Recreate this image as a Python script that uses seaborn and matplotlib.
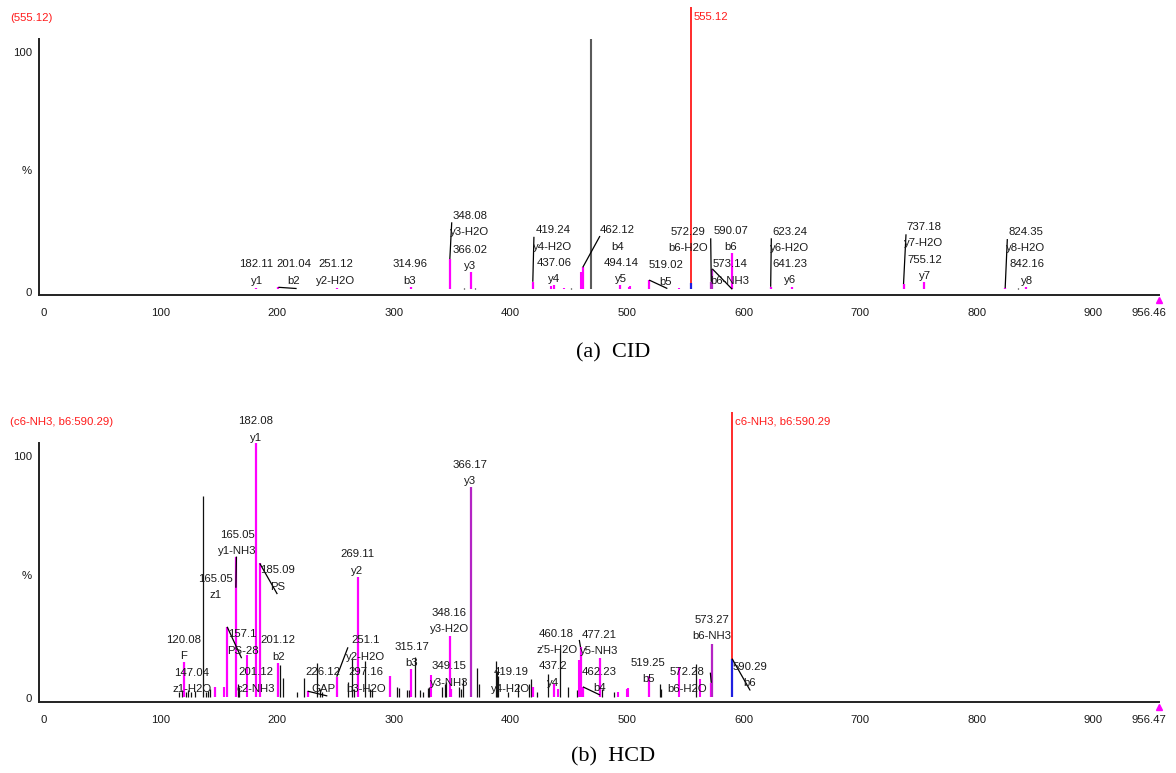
import matplotlib
matplotlib.use("Agg")
import matplotlib.pyplot as plt
import matplotlib.transforms as mtransforms
import seaborn as sns

sns.set_theme(style="white")
plt.rcParams["font.family"] = ["Liberation Sans", "DejaVu Sans"]

# ------------------------------------------------------------------
# (a) CID spectrum
# ------------------------------------------------------------------
cid_ann_mz = [182.11, 201.04, 251.12, 314.96, 348.08, 366.02, 419.24, 437.06,
              462.12, 494.14, 519.02, 572.29, 573.14, 590.07, 623.24, 641.23,
              737.18, 755.12, 824.35, 842.16]
cid_ann_ion = ["y1", "b2", "y2-H2O", "b3", "y3-H2O", "y3", "y4-H2O", "y4",
               "b4", "y5", "b5", "b6-H2O", "b6-NH3", "b6", "y6-H2O", "y6",
               "y7-H2O", "y7", "y8-H2O", "y8"]
cid_ann_int = [0.7, 0.8, 0.7, 0.8, 12.1, 7.0, 3.0, 1.7,
               8.8, 1.7, 3.7, 3.0, 8.2, 14.4, 1.0, 1.0,
               2.1, 3.0, 0.5, 1.0]

cid_match_mz = [434.5, 446.4, 460.3, 501.7, 503.0, 544.9]
cid_match_int = [1.3, 0.7, 7.0, 1.0, 1.5, 0.7]
cid_noise_mz = [360.5, 369.6, 452.0, 468.8, 835.6]
cid_noise_int = [0.6, 0.6, 0.6, 100.0, 0.5]

cid_prec_mz = 555.12
cid_prec_int = 2.4
cid_prec_text = "555.12"
cid_max_mz = 956.46

# ------------------------------------------------------------------
# (b) HCD spectrum
# ------------------------------------------------------------------
hcd_ann_mz = [120.08, 147.04, 157.10, 165.05, 165.05, 182.08, 185.09, 201.12,
              201.12, 226.12, 251.10, 269.11, 297.16, 315.17, 348.16, 349.15,
              366.17, 419.19, 437.20, 460.18, 462.23, 477.21, 519.25, 572.28,
              573.27]
hcd_ann_ion = ["F", "z1-H2O", "PS-28", "y1-NH3", "z1", "y1", "PS", "b2",
               "c2-NH3", "GAP", "y2-H2O", "y2", "b3-H2O", "b3", "y3-H2O",
               "y3-NH3", "y3", "y4-H2O", "y4", "z'5-H2O", "b4", "y5-NH3", "b5",
               "b6-H2O", "b6-NH3"]
hcd_ann_int = [13.8, 3.9, 27.6, 55.3, 55.3, 100.0, 52.6, 13.2,
               13.2, 2.2, 7.9, 47.1, 8.0, 10.8, 24.0, 3.0,
               82.6, 4.0, 5.0, 19.5, 3.9, 15.4, 8.2, 5.5,
               21.0]

hcd_match_mz = [154.6, 173.8, 331.6, 441.0, 459.1, 492.0, 500.0, 501.2, 544.9, 562.6]
hcd_match_int = [4.0, 16.5, 8.6, 3.0, 14.6, 2.0, 3.0, 3.5, 11.8, 6.9]
hcd_noise_mz = [115.8, 118.1, 121.8, 123.8, 125.8, 129.5, 136.1, 138.9, 140.9,
                142.4, 166.4, 167.5, 202.2, 205.3, 216.7, 223.2, 233.9, 236.5,
                238.8, 261.0, 263.9, 266.0, 275.3, 279.7, 281.6, 302.4, 304.4,
                311.0, 313.0, 318.6, 322.5, 325.0, 329.5, 330.6, 341.6, 343.8,
                345.1, 356.0, 357.3, 359.0, 371.6, 373.3, 387.3, 388.3, 389.3,
                398.0, 406.6, 416.0, 417.7, 423.0, 432.5, 442.5, 449.5, 457.3,
                478.5, 489.3, 528.0, 529.0, 559.5]
hcd_noise_int = [2.0, 2.6, 2.0, 2.6, 2.0, 2.4, 79.3, 2.0, 2.4,
                 3.0, 5.0, 4.0, 12.5, 7.3, 2.0, 7.3, 13.2, 3.0,
                 2.0, 6.0, 15.0, 3.0, 14.0, 3.0, 3.0, 4.0, 3.5,
                 2.5, 2.5, 15.8, 2.5, 2.0, 3.5, 4.0, 4.0, 5.0,
                 6.0, 4.0, 3.0, 7.0, 11.3, 5.0, 14.0, 10.0, 8.0,
                 2.0, 5.0, 5.0, 7.0, 2.0, 9.0, 18.4, 4.0, 2.5,
                 3.0, 2.0, 5.0, 3.0, 12.9]

hcd_prec_mz = 590.29
hcd_prec_int = 14.9
hcd_prec_ion = "b6"
hcd_prec_text = "c6-NH3, b6:590.29"
hcd_max_mz = 956.47

# ------------------------------------------------------------------
# label placement (centre x, ion-line y) and leader end points
# ------------------------------------------------------------------
cid_lab_pos = [(182.4, 3.4), (214.4, 3.4), (250.4, 3.4), (313.9, 3.4),
               (365.4, 22.8), (365.4, 9.3), (436.3, 17.0), (437.4, 4.0),
               (491.7, 17.0), (494.9, 4.0), (533.2, 3.0), (552.6, 16.4),
               (588.3, 3.4), (589.2, 16.8), (639.8, 16.4), (639.8, 3.7),
               (754.7, 18.4), (755.6, 5.3), (841.9, 16.4), (842.8, 3.4)]
cid_leader = [None, (216.7, 0.3), None, None,
              (349.7, 26.8), None, (420.2, 21.0), None,
              (476.8, 21.3), None, (534.6, 0.3), (571.8, 20.4),
              (590.3, 0.0), None, (623.8, 20.4), None,
              (739.3, 22.0), None, (826.2, 20.1), None]
cid_dark = {572.29, 573.14}

hcd_lab_pos = [(120.1, 16.1), (126.6, 3.0), (170.4, 18.2), (165.8, 57.5),
               (147.5, 40.1), (181.8, 102.2), (200.1, 43.4), (201.0, 15.8),
               (181.8, 3.2), (239.6, 3.2), (276.2, 15.8), (268.7, 49.7),
               (276.2, 3.2), (315.6, 13.2), (347.6, 26.6), (347.6, 5.5),
               (365.4, 85.1), (400.3, 3.2), (436.8, 5.5), (439.7, 18.4),
               (476.3, 3.3), (476.3, 18.0), (518.3, 6.9), (551.7, 3.2),
               (572.6, 24.0)]
hcd_leader = [None, None, (169.5, 15.2), None,
              (164.6, 43.0), None, (200.1, 40.5), None,
              None, (243.0, 0.3), (260.7, 19.5), None,
              None, None, None, None,
              None, None, None, (459.1, 22.4),
              (476.8, 0.7), None, None, (571.5, 9.5),
              None]
hcd_dark = {366.17, 573.27}
hcd_prec_lab = (605.5, 5.3)
hcd_prec_leader = (605.5, 2.6)

MAGENTA = "#ff00ff"
PURPLE = "#b424c4"
TXT = "#1a1a1a"
FS = 8.2
LINE_PITCH = 16.3  # pixels between the m/z line and the ion line


def fmt(v):
    return ("%.2f" % v).rstrip("0").rstrip(".")


def draw_panel(ax, ann_mz, ann_ion, ann_int, lab_pos, leaders, dark,
               match_mz, match_int, noise_mz, noise_int,
               prec_mz, prec_int, prec_text, max_mz, ylim, red_top,
               ylab_pos, fig):
    ax.set_xlim(-4, 962)
    ax.set_ylim(*ylim)

    # unmatched peaks (the base peak is drawn in grey)
    for m, v in zip(noise_mz, noise_int):
        is_base = v >= 99
        ax.vlines(m, 0, v, color="#5a5a5a" if is_base else "#111111",
                  lw=1.5 if is_base else 0.9)
    # matched but unlabelled peaks
    ax.vlines(match_mz, 0, match_int, color=MAGENTA, lw=1.5)
    # labelled peaks (unique positions)
    seen = set()
    for m, v in zip(ann_mz, ann_int):
        if m in seen:
            continue
        seen.add(m)
        ax.vlines(m, 0, v, color=PURPLE if m in dark else MAGENTA, lw=1.6)

    # precursor marker
    ax.vlines(prec_mz, prec_int, red_top, color="#ff1a1a", lw=1.3)
    ax.vlines(prec_mz, 0, prec_int, color="#1f1fe0", lw=1.6)
    ax.text(prec_mz + 2.0, red_top - 4.0, prec_text, color="#ff1a1a",
            fontsize=FS, ha="left", va="center")

    up = mtransforms.offset_copy(ax.transData, fig=fig, x=0, y=LINE_PITCH,
                                 units="dots")
    for m, ion, v, (lx, ly), ld in zip(ann_mz, ann_ion, ann_int, lab_pos, leaders):
        if ld is not None:
            ax.plot([m, ld[0]], [v, ld[1]], color="#000000", lw=0.9,
                    solid_capstyle="butt")
        ax.text(lx, ly, ion, fontsize=FS, ha="center", va="center", color=TXT)
        ax.text(lx, ly, fmt(m), fontsize=FS, ha="center", va="center",
                color=TXT, transform=up)

    # axes styling
    for s in ("top", "right"):
        ax.spines[s].set_visible(False)
    for s in ("left", "bottom"):
        ax.spines[s].set_color("#222222")
        ax.spines[s].set_linewidth(1.4)
    ax.spines["left"].set_bounds(ylim[0], 100)
    ax.spines["bottom"].set_bounds(-4, max_mz)

    xt = [0, 100, 200, 300, 400, 500, 600, 700, 800, 900, max_mz]
    ax.set_xticks(xt)
    ax.set_xticklabels([str(t) for t in xt[:-1]] + [fmt(max_mz)])
    ax.tick_params(axis="x", direction="in", length=4, width=1.0,
                   color="#222222", labelsize=FS, pad=9.5, labelcolor=TXT)
    last = ax.get_xticklabels()[-1]
    last.set_transform(last.get_transform() +
                       mtransforms.ScaledTranslation(-10 / 100, 0, fig.dpi_scale_trans))

    ax.set_yticks([0, 50, 100])
    ax.set_yticklabels([])
    ax.tick_params(axis="y", which="major", direction="in", length=3,
                   width=1.0, color="#222222")
    ax.set_yticks(ylab_pos, minor=True)
    ax.set_yticklabels(["0", "%", "100"], minor=True)
    ax.tick_params(axis="y", which="minor", length=0, labelsize=FS, pad=5.3,
                   labelcolor=TXT)
    ax.grid(False)

    # precursor m/z marker under the axis end
    ax.plot([max_mz], [ylim[0] - 2.0], marker="^", ms=5, color=MAGENTA,
            clip_on=False, mec=MAGENTA)


fig = plt.figure(figsize=(11.76, 7.73), dpi=100)
ax1 = fig.add_axes([0.03342, 0.6180, 0.9578, 0.3748])
ax2 = fig.add_axes([0.03342, 0.09211, 0.9578, 0.3787])

draw_panel(ax1, cid_ann_mz, cid_ann_ion, cid_ann_int, cid_lab_pos, cid_leader,
           cid_dark, cid_match_mz, cid_match_int, cid_noise_mz, cid_noise_int,
           cid_prec_mz, cid_prec_int, cid_prec_text, cid_max_mz,
           (-2.4, 113.5), 112.9, [-1.0, 47.7, 94.8], fig)

draw_panel(ax2, hcd_ann_mz, hcd_ann_ion, hcd_ann_int, hcd_lab_pos, hcd_leader,
           hcd_dark, hcd_match_mz, hcd_match_int, hcd_noise_mz, hcd_noise_int,
           hcd_prec_mz, hcd_prec_int, hcd_prec_text, hcd_max_mz,
           (-2.0, 113.5), 112.5, [-0.4, 48.0, 95.1], fig)

# b6 label on the precursor-coincident peak of the HCD spectrum
up2 = mtransforms.offset_copy(ax2.transData, fig=fig, x=0, y=LINE_PITCH, units="dots")
ax2.plot([hcd_prec_mz, hcd_prec_leader[0]], [hcd_prec_int, hcd_prec_leader[1]],
         color="#000000", lw=0.9)
ax2.text(hcd_prec_lab[0], hcd_prec_lab[1], hcd_prec_ion, fontsize=FS,
         ha="center", va="center", color=TXT)
ax2.text(hcd_prec_lab[0], hcd_prec_lab[1], fmt(hcd_prec_mz), fontsize=FS,
         ha="center", va="center", color=TXT, transform=up2)

# red precursor headers in the top-left corners
fig.text(10 / 1176, 1 - 17.7 / 773, "(" + cid_prec_text + ")", color="#ff1a1a",
         fontsize=FS, ha="left", va="center")
fig.text(10 / 1176, 1 - 421.7 / 773, "(" + hcd_prec_text + ")", color="#ff1a1a",
         fontsize=FS, ha="left", va="center")

# sub-figure captions
fig.text(613 / 1176, 1 - 353 / 773, "(a)  CID", fontsize=16, ha="center",
         va="center", family=["Liberation Serif", "DejaVu Serif"], color="#000000")
fig.text(613 / 1176, 1 - 757 / 773, "(b)  HCD", fontsize=16, ha="center",
         va="center", family=["Liberation Serif", "DejaVu Serif"], color="#000000")

fig.savefig("out.png", dpi=100, facecolor="white")
